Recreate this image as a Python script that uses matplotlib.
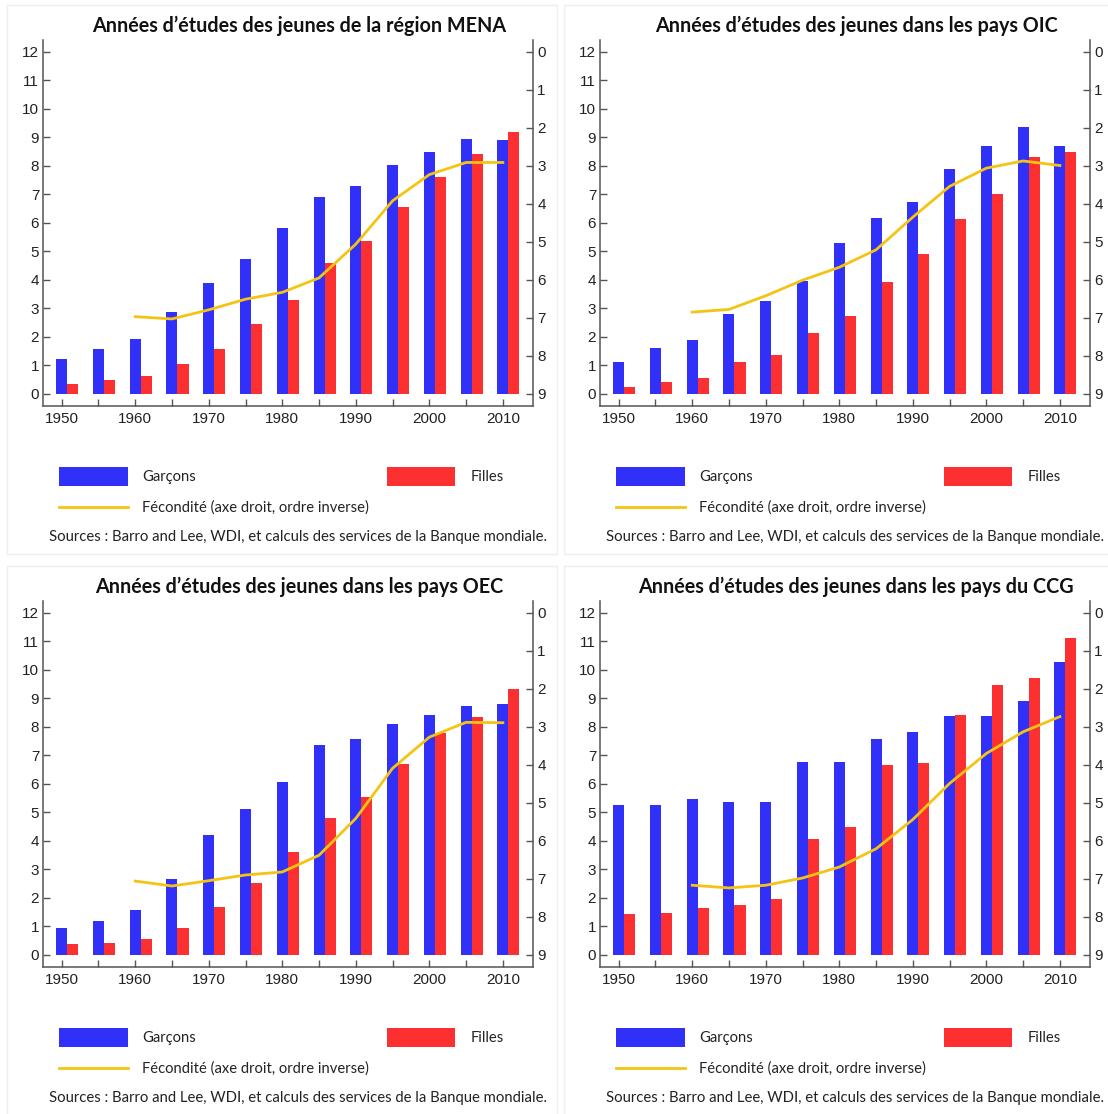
import numpy as np
import matplotlib
matplotlib.use("Agg")
import matplotlib.pyplot as plt
from matplotlib.patches import Rectangle
from matplotlib.lines import Line2D

# ---- data ----
years = [1950, 1955, 1960, 1965, 1970, 1975, 1980, 1985, 1990, 1995, 2000, 2005, 2010]
fert_years = [1960, 1965, 1970, 1975, 1980, 1985, 1990, 1995, 2000, 2005, 2010]

mena_garcons = [1.23, 1.57, 1.91, 2.88, 3.90, 4.72, 5.81, 6.91, 7.28, 8.04, 8.49, 8.96, 8.90]
mena_filles = [0.34, 0.48, 0.61, 1.04, 1.56, 2.46, 3.28, 4.58, 5.37, 6.57, 7.61, 8.41, 9.18]
mena_fecondite = [6.97, 7.03, 6.79, 6.51, 6.33, 5.95, 5.06, 3.92, 3.23, 2.91, 2.91]

oic_garcons = [1.11, 1.60, 1.87, 2.80, 3.24, 3.97, 5.30, 6.16, 6.73, 7.90, 8.69, 9.37, 8.69]
oic_filles = [0.23, 0.42, 0.54, 1.11, 1.35, 2.15, 2.74, 3.91, 4.91, 6.15, 7.03, 8.31, 8.50]
oic_fecondite = [6.85, 6.78, 6.42, 6.01, 5.67, 5.21, 4.35, 3.54, 3.06, 2.87, 2.99]

oec_garcons = [0.94, 1.17, 1.58, 2.66, 4.22, 5.10, 6.08, 7.35, 7.58, 8.11, 8.43, 8.72, 8.80]
oec_filles = [0.36, 0.41, 0.56, 0.93, 1.69, 2.53, 3.61, 4.81, 5.54, 6.69, 7.77, 8.34, 9.34]
oec_fecondite = [7.06, 7.19, 7.05, 6.90, 6.82, 6.38, 5.41, 4.09, 3.27, 2.88, 2.89]

ccg_garcons = [5.27, 5.27, 5.47, 5.38, 5.37, 6.77, 6.77, 7.58, 7.82, 8.37, 8.39, 8.92, 10.27]
ccg_filles = [1.42, 1.47, 1.64, 1.75, 1.95, 4.05, 4.47, 6.65, 6.73, 8.43, 9.46, 9.70, 11.11]
ccg_fecondite = [7.17, 7.24, 7.17, 6.98, 6.69, 6.21, 5.44, 4.49, 3.70, 3.13, 2.73]

titles = ["Années d’études des jeunes de la région MENA",
          "Années d’études des jeunes dans les pays OIC",
          "Années d’études des jeunes dans les pays OEC",
          "Années d’études des jeunes dans les pays du CCG"]

label_garcons = "Garçons"
label_filles = "Filles"
label_fecondite = "Fécondité (axe droit, ordre inverse)"
source_text = "Sources : Barro and Lee, WDI, et calculs des services de la Banque mondiale."

BLUE = "#3030f8"
RED = "#fc3030"
YELLOW = "#f4c414"
SPINE = "#555555"
TXT = "#222222"

# tick labels look like Arial
plt.rcParams["font.family"] = ["Liberation Sans", "DejaVu Sans"]

W, H = 1108, 1114
fig = plt.figure(figsize=(W / 100, H / 100), dpi=100)


def fx(px):
    return px / W


def fy(py):
    return 1 - py / H


def draw_panel(x0, y0, title, garcons, filles, fecondite):
    # light frame around the panel
    fig.add_artist(Rectangle((fx(x0 + 7), fy(y0 + 554)), fx(550), 549 / H,
                             transform=fig.transFigure, fill=False,
                             edgecolor="#eeeeee", lw=1))

    ax = fig.add_axes([fx(x0 + 43.3), fy(y0 + 406), fx(533 - 43.3), (406 - 40) / H])
    x = np.array(years)
    ax.bar(x, garcons, width=1.5, color=BLUE, label=label_garcons)
    ax.bar(x + 1.5, filles, width=1.5, color=RED, label=label_filles)
    ax.set_xlim(1947.5, 2014.1)
    ax.set_ylim(-0.43, 12.42)
    ax.set_yticks(range(13))
    ax.set_xticks(range(1950, 2011, 5))
    ax.set_xticklabels([str(y) if y % 10 == 0 else "" for y in range(1950, 2011, 5)])

    ax2 = ax.twinx()
    ax2.plot(fert_years, fecondite, color=YELLOW, lw=2, label=label_fecondite)
    ax2.set_ylim(9 + 0.43 * 0.75, 9 - 12.42 * 0.75)
    ax2.set_yticks(range(10))

    for a in (ax, ax2):
        a.spines["top"].set_visible(False)
        for s in a.spines.values():
            s.set_color(SPINE)
            s.set_linewidth(1.1)
        a.tick_params(direction="in", length=5, width=1, color=SPINE,
                      labelsize=11, labelcolor=TXT, pad=3)
    ax2.spines["left"].set_visible(False)
    ax2.spines["bottom"].set_visible(False)
    ax.spines["right"].set_visible(False)
    ax.tick_params(axis="x", pad=4)

    fig.text(fx(x0 + 299), fy(y0 + 26), title, ha="center", va="center",
             fontsize=14.2, fontweight="bold", family="Lato", color="#111111")

    # legend block
    fig.add_artist(Rectangle((fx(x0 + 59), fy(y0 + 486)), fx(69), 19 / H,
                             transform=fig.transFigure, color=BLUE, lw=0))
    fig.add_artist(Rectangle((fx(x0 + 387), fy(y0 + 486)), fx(68), 19 / H,
                             transform=fig.transFigure, color=RED, lw=0))
    fig.add_artist(Line2D([fx(x0 + 59), fx(x0 + 128)], [fy(y0 + 507), fy(y0 + 507)],
                          transform=fig.transFigure, color=YELLOW, lw=2))
    fig.text(fx(x0 + 142), fy(y0 + 477), label_garcons, ha="left", va="center",
             fontsize=10.6, family="Lato", color=TXT)
    fig.text(fx(x0 + 471), fy(y0 + 477), label_filles, ha="left", va="center",
             fontsize=10.6, family="Lato", color=TXT)
    fig.text(fx(x0 + 142), fy(y0 + 508), label_fecondite, ha="left", va="center",
             fontsize=10.6, family="Lato", color=TXT)
    fig.text(fx(x0 + 49), fy(y0 + 537), source_text, ha="left", va="center",
             fontsize=10.7, family="Lato", color=TXT)


draw_panel(0, 0, titles[0], mena_garcons, mena_filles, mena_fecondite)
draw_panel(557, 0, titles[1], oic_garcons, oic_filles, oic_fecondite)
draw_panel(0, 561, titles[2], oec_garcons, oec_filles, oec_fecondite)
draw_panel(557, 561, titles[3], ccg_garcons, ccg_filles, ccg_fecondite)

fig.savefig("out.png", dpi=100, facecolor="white")
